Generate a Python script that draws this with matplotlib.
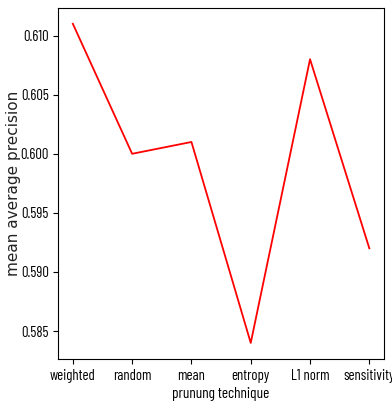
import matplotlib
matplotlib.use('Agg')
import matplotlib.pyplot as plt

# pruning techniques and their mAP
techniques = ['weighted', 'random', 'mean', 'entropy', 'L1 norm', 'sensitivity']
map_values = [0.611, 0.600, 0.601, 0.584, 0.608, 0.592]

narrow = ['Barlow Condensed', 'DejaVu Sans']

fig = plt.figure(figsize=(3.92, 4.12), dpi=100)
ax = fig.add_axes([0.148, 0.129, 0.832, 0.852])
ax.plot(techniques, map_values, color='red', linewidth=1.3)

ax.set_xlabel('prunung technique', family=narrow, fontsize=11, labelpad=3)
ax.set_ylabel('mean average precision', fontsize=11, va='center', color='#222222')
ax.yaxis.set_label_coords(-0.138, 0.5)
ax.tick_params(axis='x', pad=4)
ax.tick_params(axis='y', pad=3)
for lbl in ax.get_xticklabels() + ax.get_yticklabels():
    lbl.set_family(narrow)
    lbl.set_fontsize(10.6)

fig.savefig('out.png', dpi=100)
